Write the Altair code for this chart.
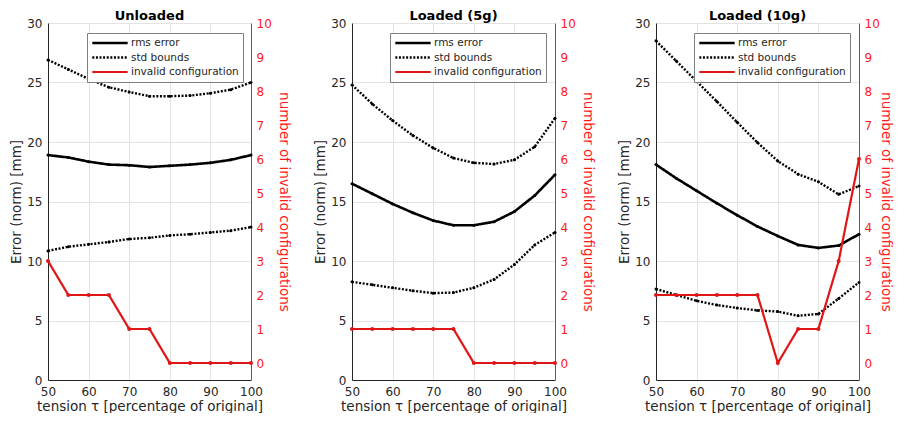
import altair as alt
import pandas as pd

tension = [50, 55, 60, 65, 70, 75, 80, 85, 90, 95, 100]

titles = ["Unloaded", "Loaded (5g)", "Loaded (10g)"]

rms = [
    [18.9, 18.7, 18.35, 18.1, 18.05, 17.9, 18.0, 18.1, 18.25, 18.5, 18.9],
    [16.5, 15.65, 14.8, 14.05, 13.4, 13.0, 13.0, 13.3, 14.15, 15.5, 17.25],
    [18.1, 16.95, 15.9, 14.85, 13.85, 12.9, 12.1, 11.35, 11.1, 11.3, 12.25],
]
std_upper = [
    [26.9, 26.1, 25.3, 24.6, 24.2, 23.85, 23.85, 23.9, 24.1, 24.4, 25.0],
    [24.8, 23.2, 21.8, 20.55, 19.5, 18.65, 18.25, 18.15, 18.5, 19.6, 22.0],
    [28.5, 26.8, 25.1, 23.4, 21.65, 19.95, 18.4, 17.3, 16.65, 15.6, 16.3],
]
std_lower = [
    [10.85, 11.2, 11.4, 11.6, 11.85, 11.95, 12.15, 12.25, 12.4, 12.55, 12.85],
    [8.25, 8.0, 7.75, 7.5, 7.3, 7.35, 7.75, 8.45, 9.7, 11.35, 12.4],
    [7.65, 7.15, 6.65, 6.3, 6.05, 5.85, 5.75, 5.4, 5.55, 6.85, 8.2],
]
invalid = [
    [3, 2, 2, 2, 1, 1, 0, 0, 0, 0, 0],
    [1, 1, 1, 1, 1, 1, 0, 0, 0, 0, 0],
    [2, 2, 2, 2, 2, 2, 0, 1, 1, 3, 6],
]

series_names = ["rms error", "std bounds", "invalid configuration"]
AX = "#262626"
RED_LINE = "#e01515"
RED_AX = "#ff1a1a"
FONT = "DejaVu Sans"

color_scale = alt.Scale(domain=series_names, range=["black", "black", RED_LINE])
dash_scale = alt.Scale(domain=series_names, range=[[1, 0], [2, 1.6], [1, 0]])
width_scale = alt.Scale(domain=series_names, range=[2.6, 2.2, 1.1])

x_enc = alt.X(
    "x:Q",
    scale=alt.Scale(domain=[50, 100], nice=False),
    axis=alt.Axis(
        title="tension τ [percentage of original]",
        values=[50, 60, 70, 80, 90, 100],
        grid=True, gridColor="#e3e3e3", domainColor=AX, labelColor=AX,
        titleColor=AX, ticks=False, labelPadding=6, labelFontSize=12,
        titleFontSize=13.5, titlePadding=2, titleFontWeight="normal",
        labelFont=FONT, titleFont=FONT, labelFlush=False, labelOverlap=False,
    ),
)


def panel(i, legend_x, r_extent, r_pad):
    rows = []
    for k in range(len(tension)):
        rows.append({"x": tension[k], "y": rms[i][k], "series": "rms error", "line": "rms"})
        rows.append({"x": tension[k], "y": std_upper[i][k], "series": "std bounds", "line": "up"})
        rows.append({"x": tension[k], "y": std_lower[i][k], "series": "std bounds", "line": "low"})
    df = pd.DataFrame(rows)
    dinv = pd.DataFrame({"x": tension, "n": invalid[i], "series": "invalid configuration"})

    legend = alt.Legend(
        title=None, orient="none", legendX=legend_x, legendY=10,
        symbolType="stroke", symbolSize=1250, labelFontSize=10.5, labelFont=FONT,
        labelColor=AX, strokeColor="#7f7f7f", fillColor="white", padding=4,
        rowPadding=2.5, symbolOffset=0, labelOffset=2, clipHeight=12,
    )
    enc_common = dict(
        color=alt.Color("series:N", scale=color_scale, legend=legend),
        strokeDash=alt.StrokeDash("series:N", scale=dash_scale, legend=legend),
        strokeWidth=alt.StrokeWidth("series:N", scale=width_scale, legend=legend),
    )
    y_left = alt.Y(
        "y:Q",
        scale=alt.Scale(domain=[0, 30], nice=False),
        axis=alt.Axis(
            title="Error (norm) [mm]", values=[0, 5, 10, 15, 20, 25, 30],
            grid=True, gridColor="#e3e3e3", domainColor=AX, labelColor=AX,
            titleColor=AX, ticks=False, labelPadding=6, labelFontSize=12,
            titleFontSize=13.5, titlePadding=5, titleFontWeight="normal",
            labelFont=FONT, titleFont=FONT, minExtent=20, maxExtent=20,
            labelOverlap=False,
        ),
    )
    lines = alt.Chart(df).mark_line().encode(
        x=x_enc, y=y_left, detail="line:N", **enc_common
    )
    pts = alt.Chart(df).mark_point(filled=True, size=9, opacity=1, color="black").encode(
        x=x_enc, y=y_left
    )
    left = alt.layer(lines, pts)

    y_right = alt.Y(
        "n:Q",
        scale=alt.Scale(domain=[-0.5, 10], nice=False),
        axis=alt.Axis(
            title="number of invalid configurations", orient="right",
            values=list(range(0, 11)), grid=False, domainColor=RED_AX,
            labelColor=RED_AX, titleColor=RED_AX, ticks=False, labelPadding=5,
            labelFontSize=12, titleFontSize=13.5, titlePadding=r_pad,
            titleFontWeight="normal", labelFont=FONT, titleFont=FONT,
            minExtent=r_extent, maxExtent=r_extent, labelOverlap=False,
        ),
    )
    red_line = alt.Chart(dinv).mark_line().encode(x=x_enc, y=y_right, **enc_common)
    red_pts = alt.Chart(dinv).mark_point(filled=True, size=16, opacity=1, color=RED_LINE).encode(
        x=x_enc, y=y_right
    )
    right = alt.layer(red_line, red_pts)

    return (
        alt.layer(left, right)
        .resolve_scale(y="independent")
        .properties(
            width=203, height=357,
            title=alt.TitleParams(titles[i], fontSize=13, font=FONT, fontWeight="bold",
                                  color="black", offset=-6, anchor="middle", frame="group"),
        )
    )


chart = (
    alt.hconcat(panel(0, 39, 18, 7), panel(1, 38, 18, 7), panel(2, 38, 16, 3), spacing=23)
    .resolve_scale(color="independent", strokeDash="independent", strokeWidth="independent")
    .resolve_legend(color="independent", strokeDash="independent", strokeWidth="independent")
    .properties(padding={"left": 1, "top": 2, "right": 2, "bottom": 0})
    .configure_view(strokeWidth=0)
)

chart.save("out.html", embed_options={"renderer": "svg", "actions": False})
